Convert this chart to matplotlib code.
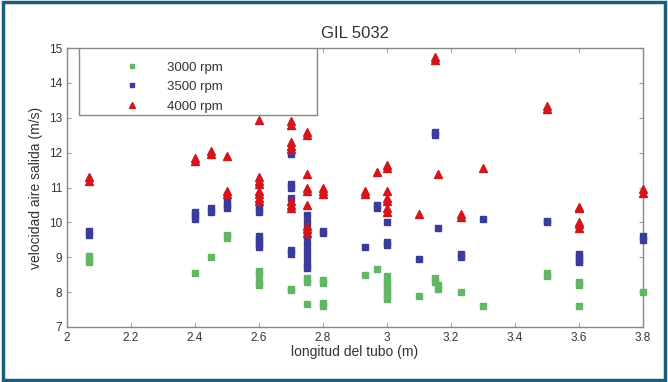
import matplotlib
matplotlib.use("Agg")
import matplotlib.pyplot as plt
from matplotlib.patches import Rectangle

plt.rcParams['font.family'] = ['Liberation Sans', 'DejaVu Sans']

# ---- data (x = longitud del tubo, y = velocidad aire salida) ----
x3000 = [2.07, 2.07, 2.07, 2.4, 2.45, 2.5, 2.5,
         2.6, 2.6, 2.6, 2.6, 2.7, 2.7, 2.75, 2.75, 2.75,
         2.8, 2.8, 2.8, 2.8, 2.93, 2.97,
         3.0, 3.0, 3.0, 3.0, 3.0, 3.0, 3.0, 3.1, 3.15, 3.15, 3.16, 3.16,
         3.23, 3.3, 3.5, 3.5, 3.6, 3.6, 3.6, 3.8]
y3000 = [8.85, 8.95, 9.05, 8.55, 9.0, 9.55, 9.65,
         8.6, 8.5, 8.3, 8.2, 8.1, 8.05, 8.3, 8.4, 7.65,
         8.25, 8.35, 7.6, 7.7, 8.5, 8.65,
         8.45, 8.3, 8.2, 8.1, 8.0, 7.9, 7.8, 7.9, 8.4, 8.3, 8.1, 8.2,
         8.0, 7.6, 8.45, 8.55, 8.2, 8.3, 7.6, 8.0]

x3500 = [2.07, 2.07, 2.4, 2.4, 2.4, 2.45, 2.45, 2.5, 2.5, 2.5,
         2.6, 2.6, 2.6, 2.6, 2.6, 2.6,
         2.7, 2.7, 2.7, 2.7, 2.7, 2.7,
         2.75, 2.75, 2.75, 2.75, 2.75, 2.75, 2.75, 2.75, 2.75,
         2.8, 2.8, 2.93, 2.97, 2.97, 3.0, 3.0, 3.0, 3.1,
         3.15, 3.15, 3.16, 3.23, 3.23, 3.3, 3.5, 3.5,
         3.6, 3.6, 3.6, 3.6, 3.8, 3.8]
y3500 = [9.65, 9.75, 10.1, 10.2, 10.3, 10.3, 10.4, 10.4, 10.5, 10.6,
         10.4, 10.3, 9.3, 9.4, 9.5, 9.6,
         11.95, 11.1, 11.0, 10.7, 9.1, 9.2,
         10.2, 10.0, 9.8, 9.6, 9.4, 9.2, 9.0, 8.8, 8.7,
         9.7, 9.75, 9.3, 10.4, 10.5, 10.0, 9.45, 9.35, 8.95,
         12.5, 12.6, 9.85, 9.0, 9.1, 10.1, 10.0, 10.05,
         9.0, 8.9, 9.1, 8.85, 9.5, 9.6]

x4000 = [2.07, 2.07, 2.4, 2.4, 2.45, 2.45, 2.5, 2.5, 2.5,
         2.6, 2.6, 2.6, 2.6, 2.6, 2.6, 2.6, 2.6,
         2.7, 2.7, 2.7, 2.7, 2.7, 2.7, 2.7, 2.7,
         2.75, 2.75, 2.75, 2.75, 2.75, 2.75, 2.75, 2.75, 2.75,
         2.8, 2.8, 2.8, 2.93, 2.93, 2.97,
         3.0, 3.0, 3.0, 3.0, 3.0, 3.0, 3.0,
         3.1, 3.15, 3.15, 3.16, 3.23, 3.23, 3.3, 3.5, 3.5,
         3.6, 3.6, 3.6, 3.6, 3.6, 3.8, 3.8]
y4000 = [11.2, 11.3, 11.75, 11.85, 11.95, 12.05, 11.9, 10.8, 10.9,
         12.95, 11.2, 11.3, 11.1, 10.7, 10.8, 10.9, 10.6,
         12.8, 12.9, 12.3, 12.2, 12.1, 10.5, 10.4, 10.6,
         12.5, 12.6, 11.4, 10.9, 11.0, 10.5, 9.9, 9.8, 9.7,
         10.8, 10.9, 11.0, 10.8, 10.9, 11.45,
         11.55, 11.65, 10.9, 10.7, 10.6, 10.4, 10.3,
         10.25, 14.65, 14.75, 11.4, 10.15, 10.25, 11.55, 13.25, 13.35,
         10.45, 10.4, 9.95, 9.85, 10.0, 10.85, 10.95]

labels = ['3000 rpm', '3500 rpm', '4000 rpm']
xticks = [2, 2.2, 2.4, 2.6, 2.8, 3, 3.2, 3.4, 3.6, 3.8]
xticklabels = ['2', '2.2', '2.4', '2.6', '2.8', '3', '3.2', '3.4', '3.6', '3.8']
yticks = [7, 8, 9, 10, 11, 12, 13, 14, 15]

fig = plt.figure(figsize=(6.68, 3.82), dpi=100)
ax = fig.add_axes([0.1003, 0.144, 0.8623, 0.7303])

green = '#62b665'
blue = '#3b3b9c'
red = '#d3151c'

ax.plot(x3000, y3000, linestyle='none', marker='s', ms=3.8, color=green, mec=green,
        label=labels[0], clip_on=False, zorder=3)
ax.plot(x3500, y3500, linestyle='none', marker='s', ms=4.0, color=blue, mec=blue,
        label=labels[1], clip_on=False, zorder=3)
ax.plot(x4000, y4000, linestyle='none', marker='^', ms=5.5, color=red, mec=red,
        label=labels[2], clip_on=False, zorder=3)

ax.set_xlim(2, 3.8)
ax.set_ylim(7, 15)
ax.set_xticks(xticks)
ax.set_xticklabels(xticklabels)
ax.set_yticks(yticks)

txtc = '#333333'
ax.tick_params(direction='in', top=True, right=True, length=3, width=0.8,
               color='#999999', labelsize=8.5, labelcolor=txtc)
for s in ax.spines.values():
    s.set_color('#888888')
    s.set_linewidth(1.0)

ax.set_title('GIL 5032', fontsize=12, color=txtc, pad=7)
ax.set_xlabel('longitud del tubo (m)', fontsize=10, color=txtc, labelpad=1)
ax.set_ylabel('velocidad aire salida (m/s)', fontsize=10, color=txtc, labelpad=4)

# legend box
ax.add_patch(Rectangle((0.021, 0.76), 0.413, 0.24, transform=ax.transAxes,
                       fill=True, facecolor='white', edgecolor='#888888', lw=1.0, zorder=4))
leg = ax.legend(loc='upper left', bbox_to_anchor=(0.08, 0.995), frameon=False,
                fontsize=9.5, labelspacing=0.55, handletextpad=2.2, handlelength=1.0,
                markerscale=0.7, borderpad=0.4)
leg.set_zorder(5)
for t in leg.get_texts():
    t.set_color(txtc)

# outer frame
fig.patches.append(Rectangle((0.004, 0.005), 0.992, 0.99, transform=fig.transFigure,
                             fill=False, edgecolor='#1b5e7b', lw=2.5))

fig.savefig('out.png', dpi=100)
